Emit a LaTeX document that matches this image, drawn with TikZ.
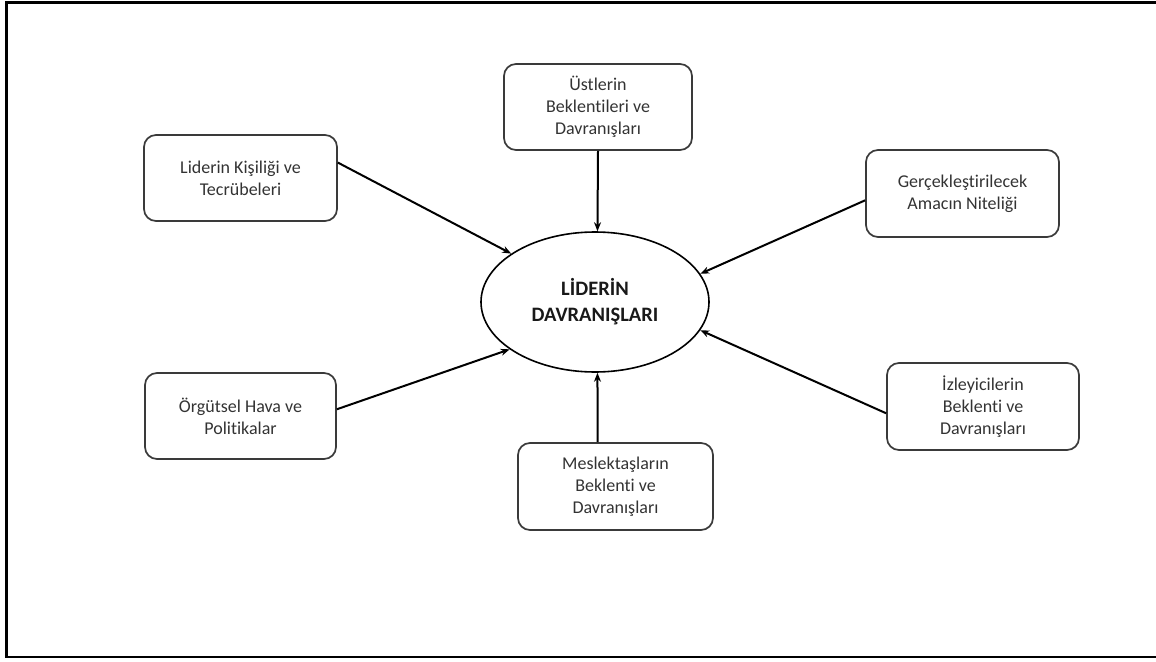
\documentclass[tikz,border=0pt]{standalone}
\usepackage{fontspec}
\setmainfont{Carlito}[RawFeature=-liga]
\usetikzlibrary{shapes.geometric,arrows.meta}
\definecolor{txtgray}{HTML}{333333}
\definecolor{boxgray}{HTML}{3A3A3A}
\begin{document}
\begin{tikzpicture}[x=1pt,y=-1pt,
  factor/.style={draw=boxgray,line width=1.7pt,rounded corners=12pt,
    align=center,text=txtgray,inner sep=0pt,
    font=\fontsize{18}{22}\selectfont},
  core/.style={draw=black,line width=1.6pt,ellipse,inner sep=0pt,
    minimum width=228pt,minimum height=140pt,align=center,
    text=black!90,font=\bfseries\fontsize{20.5}{26}\selectfont},
  link/.style={draw=black,line width=2pt,
    -{Stealth[length=9pt,width=7pt]}}]
\useasboundingbox (0,0) rectangle (1156,661);
% page frame, open on the right
\draw[line width=2.6pt] (1156,2.5) -- (6.5,2.5) -- (6.5,657) -- (1156,657);

\node[core] (ell) at (595,302) {LİDERİN\\DAVRANIŞLARI};

\node[factor,minimum width=188pt,minimum height=86pt] (us) at (598,107) {Üstlerin\\Beklentileri ve\\Davranışları};
\node[factor,minimum width=193pt,minimum height=86pt] (lk) at (240.5,178) {Liderin Kişiliği ve\\Tecrübeleri};
\node[factor,minimum width=193pt,minimum height=87pt] (gc) at (962.5,193.5) {Gerçekleştirilecek\\Amacın Niteliği};
\node[factor,minimum width=191pt,minimum height=86pt] (og) at (240.5,416) {Örgütsel Hava ve\\Politikalar};
\node[factor,minimum width=192pt,minimum height=87pt] (iz) at (983,406.5) {İzleyicilerin\\Beklenti ve\\Davranışları};
\node[factor,minimum width=195pt,minimum height=87pt] (ms) at (615.5,486.5) {Meslektaşların\\Beklenti ve\\Davranışları};

\draw[link] (us.south) -- (ell.88);
\draw[link] (lk.9) -- (ell.150);
\draw[link] (gc.184) -- (ell.15);
\draw[link] (og.4) -- (ell.209);
\draw[link] (iz.184) -- (ell.345);
\draw[link] (ms.112) -- (ell.272);
\end{tikzpicture}
\end{document}
